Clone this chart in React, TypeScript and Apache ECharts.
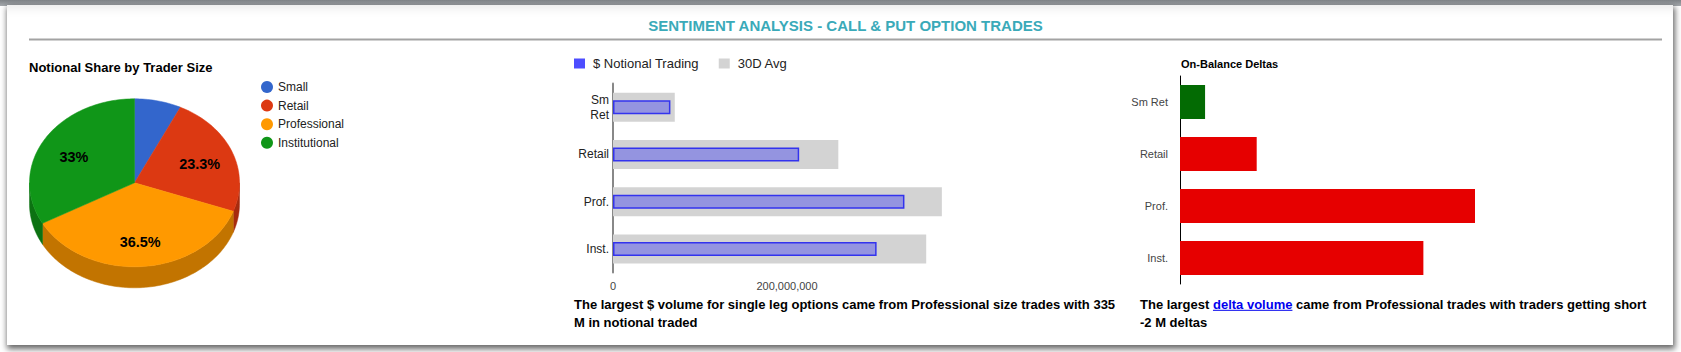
import React, { useEffect, useRef } from 'react';
import * as echarts from 'echarts';

// ---- data ----
const traderSizes = ['Small', 'Retail', 'Professional', 'Institutional'];
const sizeColors = ['#3366CC', '#DC3912', '#FF9900', '#109618'];
const barCategories = ['Sm\nRet', 'Retail', 'Prof.', 'Inst.'];
const deltaCategories = ['Sm Ret', 'Retail', 'Prof.', 'Inst.'];
const notionalTrading = [66e6, 214e6, 335e6, 303e6];
const avg30D = [71e6, 259e6, 378e6, 360e6];
const onBalanceDeltas = [0.17e6, -0.52e6, -2.0e6, -1.65e6];
const notionalAxisMax = 400e6;
const notionalAxisInterval = 200e6;

const FONT = '"Liberation Sans", Arial, Helvetica, sans-serif';

function darken(hex: string, f: number) {
  const n = parseInt(hex.slice(1), 16);
  const r = Math.round(((n >> 16) & 255) * f);
  const g = Math.round(((n >> 8) & 255) * f);
  const b = Math.round((n & 255) * f);
  return 'rgb(' + r + ',' + g + ',' + b + ')';
}

function measure(text: string, font: string) {
  const c = document.createElement('canvas');
  const ctx = c.getContext('2d')!;
  ctx.font = font;
  return ctx.measureText(text).width;
}

function fmtPct(p: number) {
  const r = Math.round(p * 10) / 10;
  return (r % 1 === 0 ? r.toFixed(0) : r.toFixed(1)) + '%';
}

export default function App() {
  const ref = useRef<HTMLDivElement>(null);

  useEffect(() => {
    if (!ref.current) return;
    const chart = echarts.init(ref.current, null, { renderer: 'svg' });

    // pie geometry
    const CX = 134.5, CY = 182.8, RX = 105, RY = 84, DEPTH = 21;
    const total = notionalTrading.reduce((a, b) => a + b, 0);

    const renderPie = (params: any, api: any) => {
      const i = params.dataIndex;
      let start = 0;
      for (let j = 0; j < i; j++) start += notionalTrading[j];
      const v = api.value(0);
      const a0 = (start / total) * Math.PI * 2;
      const a1 = ((start + v) / total) * Math.PI * 2;
      const pt = (a: number, dy = 0) => [CX + RX * Math.sin(a), CY - RY * Math.cos(a) + dy];
      const color = sizeColors[i];
      const children: any[] = [];
      const s0 = Math.max(a0, Math.PI / 2);
      const s1 = Math.min(a1, (Math.PI * 3) / 2);
      if (s1 > s0) {
        const n = Math.max(2, Math.ceil((s1 - s0) / (Math.PI / 120)));
        const pts: number[][] = [];
        for (let k = 0; k <= n; k++) pts.push(pt(s0 + ((s1 - s0) * k) / n));
        for (let k = n; k >= 0; k--) pts.push(pt(s0 + ((s1 - s0) * k) / n, DEPTH));
        children.push({
          type: 'polygon',
          shape: { points: pts },
          style: { fill: darken(color, 0.76), stroke: darken(color, 0.76), lineWidth: 0.5 },
        });
      }
      const n2 = Math.max(2, Math.ceil((a1 - a0) / (Math.PI / 120)));
      const top: number[][] = [[CX, CY]];
      for (let k = 0; k <= n2; k++) top.push(pt(a0 + ((a1 - a0) * k) / n2));
      children.push({
        type: 'polygon',
        shape: { points: top },
        style: { fill: color, stroke: color, lineWidth: 0.5 },
      });
      const share = (v / total) * 100;
      if (share >= 10) {
        const m = (a0 + a1) / 2;
        children.push({
          type: 'text',
          x: CX + 0.67 * RX * Math.sin(m),
          y: CY - 0.676 * RY * Math.cos(m) + 2.6,
          style: {
            text: fmtPct(share),
            fill: '#000',
            fontSize: 14.4,
            fontWeight: 'bold',
            fontFamily: FONT,
            align: 'center',
            verticalAlign: 'middle',
          },
        });
      }
      return { type: 'group', children };
    };

    // paragraphs
    const pFont = 'bold 13px "Liberation Sans"';
    const maxIdx = notionalTrading.indexOf(Math.max(...notionalTrading));
    const midLine1 =
      'The largest $ volume for single leg options came from ' +
      traderSizes[maxIdx] +
      ' size trades with ' +
      Math.round(notionalTrading[maxIdx] / 1e6);
    const midLine2 = 'M in notional traded';
    let dIdx = 0;
    onBalanceDeltas.forEach((d, i) => {
      if (Math.abs(d) > Math.abs(onBalanceDeltas[dIdx])) dIdx = i;
    });
    const dVal = onBalanceDeltas[dIdx];
    const rA = 'The largest';
    const rLink = 'delta volume';
    const rB =
      'came from ' + traderSizes[dIdx] + ' trades with traders getting ' + (dVal < 0 ? 'short' : 'long');
    const rLine2 = Math.round(dVal / 1e6) + ' M deltas';
    const rx0 = 1140;
    const wA = measure(rA + ' ', pFont);
    const wLink = measure(rLink, pFont);
    const wAL = measure(rA + ' ' + rLink + ' ', pFont);
    const L1 = 304.3, L2 = 322.5;

    const txt = (x: number, y: number, text: string, extra: any = {}) => ({
      type: 'text',
      x,
      y,
      silent: true,
      style: {
        text,
        fill: '#000',
        fontSize: 13,
        fontWeight: 'bold',
        fontFamily: FONT,
        verticalAlign: 'middle',
        align: 'left',
        ...extra,
      },
    });

    const pieLegend: any[] = [];
    traderSizes.forEach((name, i) => {
      const y = 87 + i * 18.6;
      pieLegend.push({
        type: 'circle',
        shape: { cx: 267, cy: y, r: 6 },
        style: { fill: sizeColors[i] },
        silent: true,
      });
      pieLegend.push(txt(278, y, name, { fontSize: 12, fontWeight: 'normal', fill: '#222' }));
    });

    chart.setOption({
      animation: false,
      backgroundColor: 'transparent',
      textStyle: { fontFamily: FONT },
      legend: {
        left: 574,
        top: 57,
        padding: 0,
        itemWidth: 11,
        itemHeight: 10,
        itemGap: 20,
        icon: 'rect',
        selectedMode: false,
        textStyle: { fontSize: 13, color: '#222', fontFamily: FONT, padding: [0, 0, 0, 3] },
        data: [
          { name: '$ Notional Trading', itemStyle: { color: '#4D4DFF', borderWidth: 0 } },
          { name: '30D Avg', itemStyle: { color: '#D3D3D3', borderWidth: 0 } },
        ],
      },
      grid: [
        { left: 613, top: 83.5, width: 348, height: 189 },
        { left: 1180, top: 76, width: 442.5, height: 208 },
      ],
      xAxis: [
        {
          type: 'value',
          gridIndex: 0,
          min: 0,
          max: notionalAxisMax,
          interval: notionalAxisInterval,
          axisLine: { show: false },
          axisTick: { show: false },
          splitLine: { show: false },
          axisLabel: {
            showMaxLabel: false,
            fontSize: 11,
            color: '#444',
            margin: 8,
            fontFamily: FONT,
            formatter: (v: number) => v.toLocaleString('en-US'),
          },
        },
        {
          type: 'value',
          gridIndex: 1,
          min: 0,
          max: 3e6,
          show: false,
          splitLine: { show: false },
        },
      ],
      yAxis: [
        {
          type: 'category',
          gridIndex: 0,
          data: barCategories,
          inverse: true,
          axisTick: { show: false },
          axisLine: { lineStyle: { color: '#888', width: 2 } },
          axisLabel: { fontSize: 12, color: '#222', margin: 4, lineHeight: 15, fontFamily: FONT },
        },
        {
          type: 'category',
          gridIndex: 0,
          data: barCategories,
          inverse: true,
          show: false,
        },
        {
          type: 'category',
          gridIndex: 1,
          data: deltaCategories,
          inverse: true,
          axisTick: { show: false },
          axisLine: { lineStyle: { color: '#000', width: 1 } },
          axisLabel: { fontSize: 11, color: '#444', margin: 12, fontFamily: FONT },
        },
      ],
      series: [
        {
          type: 'custom',
          name: 'Notional Share by Trader Size',
          coordinateSystem: 'none',
          silent: true,
          renderItem: renderPie,
          data: notionalTrading.map((v, i) => ({ value: v, name: traderSizes[i] })),
        },
        {
          type: 'bar',
          name: '30D Avg',
          xAxisIndex: 0,
          yAxisIndex: 1,
          barWidth: 29,
          itemStyle: { color: '#D3D3D3' },
          data: avg30D,
        },
        {
          type: 'bar',
          name: '$ Notional Trading',
          xAxisIndex: 0,
          yAxisIndex: 0,
          barWidth: 14,
          itemStyle: { color: '#9494E0', borderColor: '#3333EE', borderWidth: 1.5 },
          data: notionalTrading,
        },
        {
          type: 'bar',
          name: 'On-Balance Deltas',
          xAxisIndex: 1,
          yAxisIndex: 2,
          barWidth: 34,
          data: onBalanceDeltas.map((d) => ({
            value: Math.abs(d),
            itemStyle: { color: d >= 0 ? '#036B03' : '#E60000' },
          })),
        },
      ],
      graphic: [
        txt(845.5, 25.5, 'SENTIMENT ANALYSIS - CALL & PUT OPTION TRADES', {
          fontSize: 15,
          fill: '#3AAAB9',
          align: 'center',
        }),
        {
          type: 'line',
          silent: true,
          shape: { x1: 29, y1: 39.5, x2: 1662, y2: 39.5 },
          style: { stroke: '#A3A3A3', lineWidth: 2 },
        },
        txt(29, 67, 'Notional Share by Trader Size', { fontSize: 13 }),
        ...pieLegend,
        txt(1181, 64, 'On-Balance Deltas', { fontSize: 11 }),
        txt(574, L1, midLine1),
        txt(574, L2, midLine2),
        txt(rx0, L1, rA),
        txt(rx0 + wA, L1, rLink, { fill: '#0000EE' }),
        {
          type: 'line',
          silent: true,
          shape: { x1: rx0 + wA, y1: L1 + 6, x2: rx0 + wA + wLink, y2: L1 + 6 },
          style: { stroke: '#0000EE', lineWidth: 1 },
        },
        txt(rx0 + wAL, L1, rB),
        txt(rx0, L2, rLine2),
      ],
    });

    return () => chart.dispose();
  }, []);

  return (
    <div
      style={{
        position: 'fixed',
        left: 0,
        top: 0,
        width: 1681,
        height: 352,
        background: '#fff',
        overflow: 'hidden',
      }}
    >
      <div
        style={{
          position: 'absolute',
          left: 0,
          top: 0,
          width: 1681,
          height: 6,
          background: 'linear-gradient(#7f8387, #a6aaae)',
        }}
      />
      <div
        style={{
          position: 'absolute',
          left: 7,
          top: 5,
          width: 1666,
          height: 340,
          background: '#fff',
          boxShadow: '1px 3px 6px 1px rgba(0,0,0,0.6), inset 0 12px 12px -10px rgba(0,0,0,0.10)',
        }}
      />
      <div ref={ref} style={{ position: 'absolute', left: 0, top: 0, width: 1681, height: 352 }} />
    </div>
  );
}
